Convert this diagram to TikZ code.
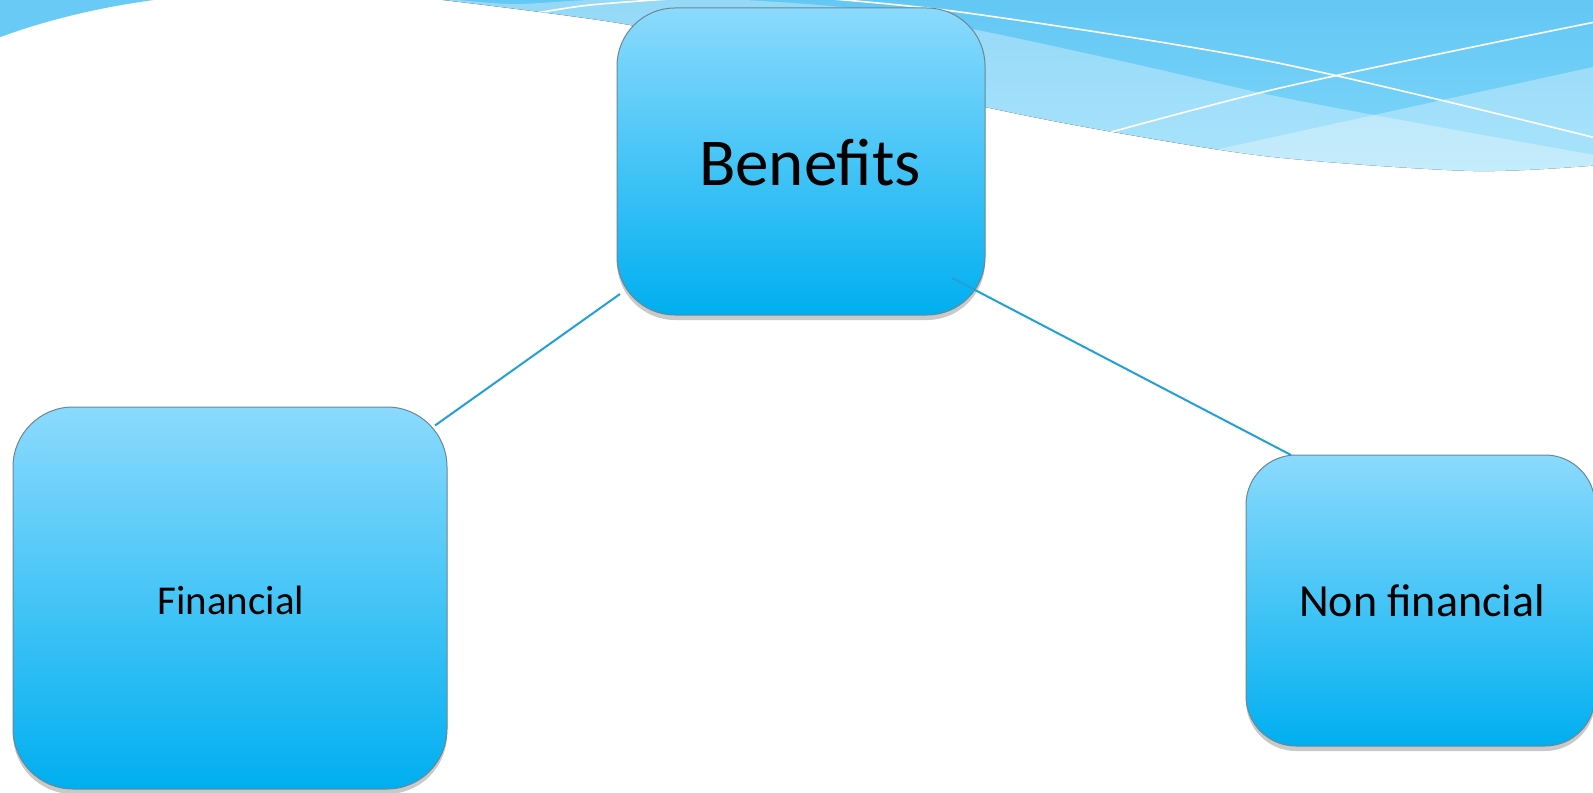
\documentclass[tikz,border=0pt]{standalone}
\usepackage{fontspec}
\setmainfont{Carlito}
\usetikzlibrary{calc,shadows}
\definecolor{wavetop}{HTML}{62C7F4}
\definecolor{wavebot}{HTML}{82D7FA}
\definecolor{wavedark}{HTML}{69CAF5}
\definecolor{boxtop}{HTML}{8BDAFD}
\definecolor{boxbot}{HTML}{00AFF0}
\definecolor{boxline}{HTML}{6A8796}
\definecolor{connblue}{HTML}{22A0D8}
\tikzset{
  box/.style={rectangle, rounded corners=#1, draw=boxline, line width=0.5pt,
    top color=boxtop, bottom color=boxbot,
    drop shadow={shadow xshift=0pt, shadow yshift=-2.5pt, opacity=0.3, fill=black!70}},
  conn/.style={draw=connblue, line width=1pt},
  wline/.style={draw=white, line width=0.8pt},
  lbl/.style={anchor=base, text=black, inner sep=0pt}
}
\begin{document}
\begin{tikzpicture}[x=0.5pt,y=-0.5pt]
\clip (0,0) rectangle (1593,792);
\useasboundingbox (0,0) rectangle (1593,792);
% top-left wave
\fill[wavedark] (-2,-2) -- (-2,38) .. controls (40,22) and (100,6) .. (170,-2) -- cycle;
% main wave
\begin{scope}
\clip (430,-5) -- plot[smooth,tension=.5] coordinates {(443,0) (630,25) (800,64) (985,107) (1113,132) (1273,157) (1473,171) (1600,165)} -- (1600,-5) -- cycle;
\fill[top color=wavetop,bottom color=wavebot] (430,-5) rectangle (1600,180);
\fill[white,opacity=.32] plot[smooth,tension=.5] coordinates {(430,-3) (510,4) (590,0) (700,-2) (850,8) (977,30) (1130,63) (1280,97) (1450,129) (1600,156)} -- (1600,250) -- (430,250) -- cycle;
\fill[white,opacity=.32] (1050,186) -- (1600,65.5) -- (1600,250) -- (1050,250) -- cycle;
\draw[wline] plot[smooth] coordinates {(520,16) (590,5) (700,-3)};
\draw[wline] plot[smooth] coordinates {(780,-5) (960,12) (1273,62) (1600,139)};
\draw[wline] plot[smooth] coordinates {(1050,149) (1280,88) (1600,21)};
\end{scope}
% boxes
\node[box=29pt, minimum width=184pt, minimum height=153.5pt] (b) at (801,161.5) {};
\node[box=30pt, minimum width=217pt, minimum height=191pt] (f) at (230,598) {};
\node[box=25pt, minimum width=174.5pt, minimum height=145.5pt] (n) at (1420.5,600.5) {};
% connectors
\draw[conn] ($(b.center)+(-181,132.5)$) -- ($(f.center)+(205,-172.5)$);
\draw[conn] ($(b.center)+(151,116.5)$) -- ($(n.center)+(-129.5,-145.5)$);
% labels
\node[lbl, font=\fontsize{33.5}{40}\selectfont] (bt) at (810,185) {Benefits};
\node[lbl, font=\fontsize{20.5}{25}\selectfont] (ft) at (231,614) {Financial};
\node[lbl, font=\fontsize{23}{28}\selectfont] (nt) at (1422,616) {Non financial};
\end{tikzpicture}
\end{document}
